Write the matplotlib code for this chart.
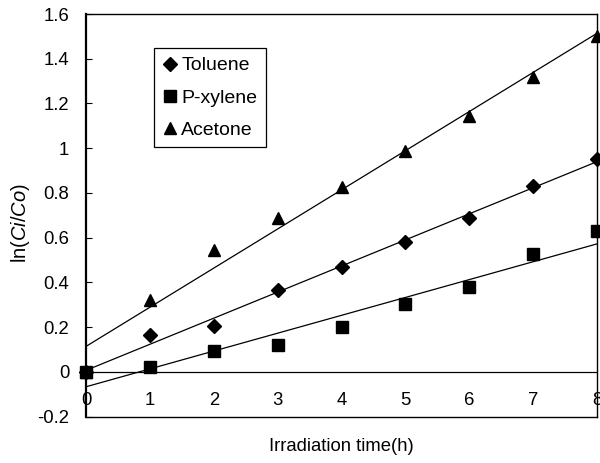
import numpy as np
import matplotlib
matplotlib.use("Agg")
import matplotlib.pyplot as plt

plt.rcParams['font.family'] = ['Liberation Sans', 'DejaVu Sans']
plt.rcParams['mathtext.fontset'] = 'custom'
plt.rcParams['mathtext.rm'] = 'Liberation Sans'
plt.rcParams['mathtext.it'] = 'Liberation Sans:italic'

hours = [0, 1, 2, 3, 4, 5, 6, 7, 8]
toluene = [0, 0.163, 0.207, 0.368, 0.468, 0.583, 0.688, 0.831, 0.954]
pxylene = [0, 0.021, 0.095, 0.122, 0.200, 0.303, 0.379, 0.528, 0.630]
acetone = [0, 0.320, 0.543, 0.686, 0.827, 0.988, 1.145, 1.317, 1.500]
series_names = ["Toluene", "P-xylene", "Acetone"]
yticks = [-0.2, 0, 0.2, 0.4, 0.6, 0.8, 1, 1.2, 1.4, 1.6]
ytick_labels = ["-0.2", "0", "0.2", "0.4", "0.6", "0.8", "1", "1.2", "1.4", "1.6"]

FS = 13.3

fig = plt.figure(figsize=(6.0, 4.63), dpi=100)
ax = fig.add_axes([86/600, 1-416.7/463, (597-86)/600, (416.7-14)/463])

x = np.array(hours, dtype=float)
styles = [("D", 7.5), ("s", 8.2), ("^", 8.5)]
for name, ys, (mk, ms) in zip(series_names, [toluene, pxylene, acetone], styles):
    ys = np.array(ys)
    ax.plot(x, ys, linestyle='none', marker=mk, markersize=ms, color='black',
            label=name, clip_on=False, zorder=3)
    k, b = np.polyfit(x, ys, 1)
    xx = np.array([0, 8])
    ax.plot(xx, k*xx + b, color='black', lw=0.9, zorder=2)

ax.axhline(0, color='black', lw=0.9, zorder=1)
ax.set_xlim(0, 8)
ax.set_ylim(-0.2, 1.6)
ax.set_yticks(yticks)
ax.set_yticklabels(ytick_labels)
ax.set_xticks(hours)
ax.set_xticklabels([str(h) for h in hours])
ax.tick_params(axis='y', direction='in', length=4.5, width=0.8, pad=12, labelsize=FS)
ax.tick_params(axis='x', direction='in', length=0, pad=-18, labelsize=FS)
for s in ['top', 'right', 'bottom']:
    ax.spines[s].set_linewidth(1.0)
ax.spines['left'].set_linewidth(1.6)

ax.set_xlabel("Irradiation time(h)", fontsize=FS)
ax.xaxis.set_label_coords(0.5, -0.053)
ax.set_ylabel(r"ln($\mathit{Ci/Co}$)", fontsize=14.5)
ax.yaxis.set_label_coords(-0.105, 0.481)

leg = ax.legend(loc='upper left', bbox_to_anchor=(0.133, 0.9156), borderaxespad=0,
                fancybox=False, edgecolor='black', framealpha=1, fontsize=14,
                handlelength=0.7, handletextpad=0.25, labelspacing=0.75,
                borderpad=0.45, numpoints=1)
leg.get_frame().set_linewidth(0.9)

fig.savefig("out.png", dpi=100)
